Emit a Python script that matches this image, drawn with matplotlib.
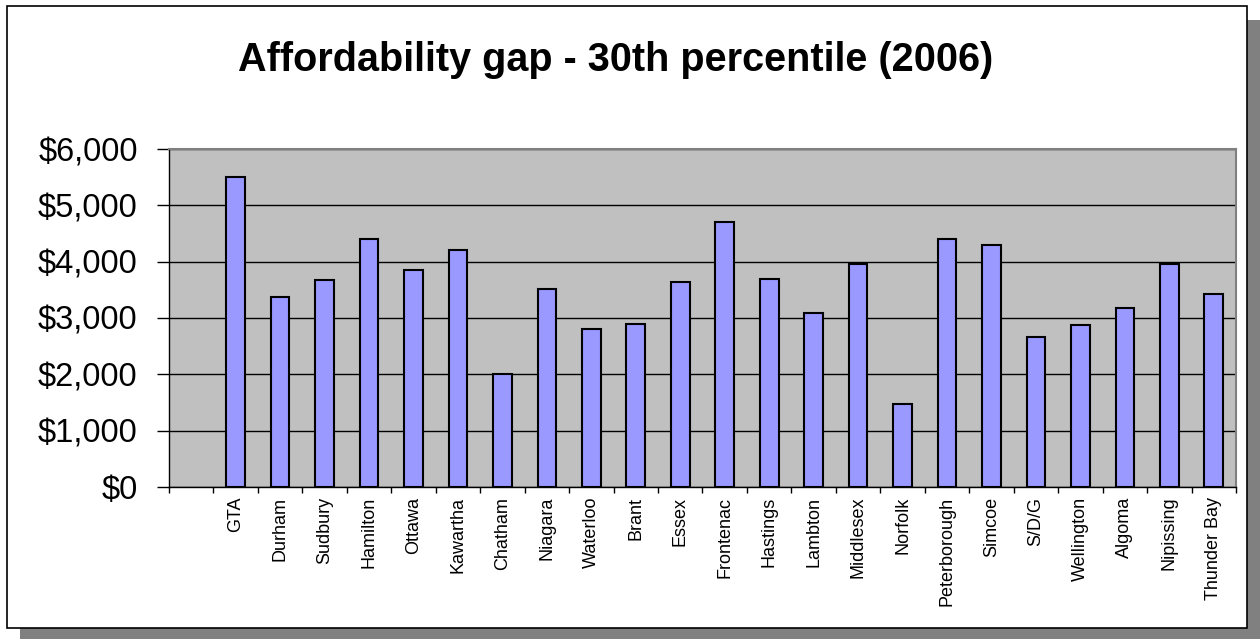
import numpy as np
import matplotlib
matplotlib.use("Agg")
import matplotlib.pyplot as plt
from matplotlib.patches import Rectangle
from matplotlib.ticker import FuncFormatter, FixedLocator

plt.rcParams['font.family'] = ['Liberation Sans', 'DejaVu Sans']

regions = ["GTA", "Durham", "Sudbury", "Hamilton", "Ottawa", "Kawartha",
           "Chatham", "Niagara", "Waterloo", "Brant", "Essex", "Frontenac",
           "Hastings", "Lambton", "Middlesex", "Norfolk", "Peterborough",
           "Simcoe", "S/D/G", "Wellington", "Algoma", "Nipissing", "Thunder Bay"]
gap = [5500, 3370, 3670, 4410, 3850, 4200, 2000, 3520, 2810, 2900, 3640,
       4700, 3700, 3080, 3960, 1480, 4410, 4290, 2660, 2870, 3170, 3960, 3430]
yticks = [0, 1000, 2000, 3000, 4000, 5000, 6000]

fig = plt.figure(figsize=(12.6, 6.39), dpi=100)

# chart frame with drop shadow
fig.patches.append(Rectangle((20 / 1260, -0.05), 1.0, 1 - 20 / 639 + 0.05,
                             transform=fig.transFigure, facecolor='#808080',
                             edgecolor='none', zorder=0))
fig.patches.append(Rectangle((7 / 1260, 1 - 628 / 639), 1240 / 1260, 622 / 639,
                             transform=fig.transFigure, facecolor='white',
                             edgecolor='black', linewidth=1.2, zorder=1))

ax = fig.add_axes([169 / 1260, 1 - 487 / 639, 1067 / 1260, 338 / 639])
ax.set_zorder(2)
ax.set_facecolor('#C0C0C0')

x = np.arange(1, len(regions) + 1)
ax.bar(x, gap, width=0.42, color='#9999FF', edgecolor='black',
       linewidth=1.5, zorder=3)

ax.set_xlim(-0.5, len(regions) + 0.5)
ax.set_ylim(0, 6000)
ax.set_yticks(yticks)
ax.yaxis.set_major_formatter(FuncFormatter(lambda v, p: f"${v:,.0f}"))
ax.grid(axis='y', color='black', linewidth=1.0, zorder=1)
ax.set_axisbelow(True)

ax.set_xticks(x)
ax.set_xticklabels(regions, rotation=90, fontsize=13, va='top', ha='center')
ax.xaxis.set_minor_locator(FixedLocator(np.arange(-0.5, len(regions) + 1, 1.0)))
ax.tick_params(axis='x', which='major', length=0, pad=7)
ax.tick_params(axis='x', which='minor', length=4.5, width=1.0, color='black',
               direction='out')
ax.tick_params(axis='y', which='major', length=8.5, width=1.0, labelsize=23.5,
               pad=14, direction='out')

for side in ('top', 'right'):
    ax.spines[side].set_color('#808080')
    ax.spines[side].set_linewidth(1.5)
for side in ('left', 'bottom'):
    ax.spines[side].set_color('black')
    ax.spines[side].set_linewidth(1.0)

fig.text(616 / 1260, 1 - 71 / 639, "Affordability gap - 30th percentile (2006)",
         ha='center', va='baseline', fontsize=28.5, fontweight='bold')

fig.savefig("out.png", dpi=100)
